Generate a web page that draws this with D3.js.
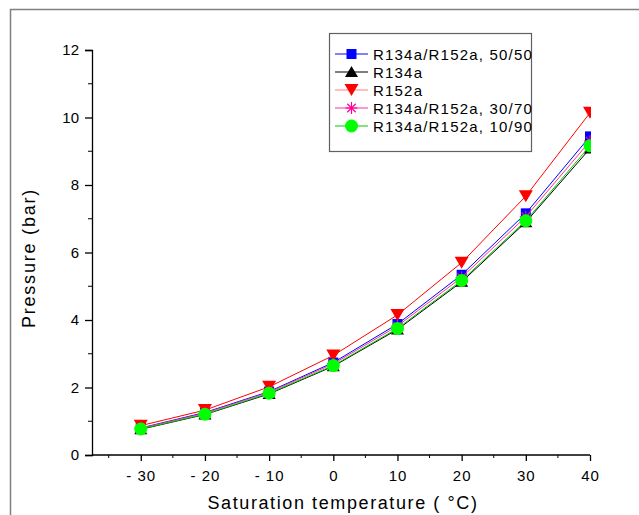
<!DOCTYPE html>
<meta charset="utf-8">
<style>
body { margin: 0; background: #fff; }
text { font-family: "Liberation Sans", Arial, sans-serif; fill: #000; }
</style>
<svg width="639" height="515"></svg>
<script src="https://d3js.org/d3.v7.min.js"></script>
<script>
var svg = d3.select("svg");

// saturation temperatures (°C)
var temps = [-30, -20, -10, 0, 10, 20, 30, 40];

// pressures (bar)
var p5050 = [0.80, 1.26, 1.88, 2.74, 3.88, 5.34, 7.16, 9.44];
var pR134a = [0.76, 1.20, 1.81, 2.63, 3.72, 5.13, 6.90, 9.08];
var pR152a = [0.87, 1.33, 2.02, 2.95, 4.15, 5.70, 7.67, 10.14];
var p3070 = [0.79, 1.24, 1.86, 2.70, 3.82, 5.26, 7.06, 9.30];
var p1090 = [0.77, 1.21, 1.83, 2.65, 3.75, 5.17, 6.94, 9.16];

var names = ["R134a/R152a, 50/50", "R134a", "R152a", "R134a/R152a, 30/70", "R134a/R152a, 10/90"];
var xTicks = [-30, -20, -10, 0, 10, 20, 30, 40];
var yTicks = [0, 2, 4, 6, 8, 10, 12];

var series = [
  {name: names[0], values: p5050, color: "#0000ff", line: "#0000ff", marker: "square"},
  {name: names[1], values: pR134a, color: "#000000", line: "#000000", marker: "triangle"},
  {name: names[2], values: pR152a, color: "#ff0000", line: "#ff0000", legendLine: "#ff8080", marker: "triangleDown"},
  {name: names[3], values: p3070, color: "#ff0099", line: "#ff3399", marker: "star"},
  {name: names[4], values: p1090, color: "#00ff00", line: "#00cc00", marker: "circle"}
];

// outer frame
svg.append("rect")
  .attr("x", 10.5).attr("y", 9.5)
  .attr("width", 700).attr("height", 600)
  .attr("fill", "none").attr("stroke", "#808080").attr("stroke-width", 1.5);

var x = d3.scaleLinear().domain([-37.6, 40]).range([92, 590]);
var y = d3.scaleLinear().domain([0, 12]).range([455, 50]);

svg.append("defs").append("clipPath").attr("id", "clip")
  .append("rect").attr("x", 92).attr("y", 0).attr("width", 499).attr("height", 470);

// axes
var xAxis = d3.axisBottom(x).tickValues(xTicks).tickSize(6)
  .tickFormat(function(d) { return d < 0 ? "- " + (-d) : d; });
var gx = svg.append("g").attr("transform", "translate(0,455)").call(xAxis);
gx.select(".domain").attr("d", "M92,0H590");
gx.selectAll(".tick text").attr("font-size", 15).attr("dy", "1.1em")
  .style("letter-spacing", "1px").attr("font-family", "Liberation Sans, Arial, sans-serif");
gx.append("g").selectAll("line").data(d3.range(-35, 40, 10)).enter().append("line")
  .attr("x1", function(d) { return x(d); }).attr("x2", function(d) { return x(d); })
  .attr("y1", 0).attr("y2", 3).attr("stroke", "#000");

var yAxis = d3.axisLeft(y).tickValues(yTicks).tickSize(7).tickPadding(6);
var gy = svg.append("g").attr("transform", "translate(92,0)").call(yAxis);
gy.selectAll(".tick text").attr("font-size", 15).attr("font-family", "Liberation Sans, Arial, sans-serif");
gy.append("g").selectAll("line").data(d3.range(1, 12, 2)).enter().append("line")
  .attr("y1", function(d) { return y(d); }).attr("y2", function(d) { return y(d); })
  .attr("x1", 0).attr("x2", -4).attr("stroke", "#000");
svg.selectAll(".domain, .tick line").attr("stroke-width", 1.3);

svg.append("text").attr("x", 343).attr("y", 509).attr("text-anchor", "middle")
  .attr("font-size", 18).style("letter-spacing", "1.6px")
  .text("Saturation temperature ( °C)");
svg.append("text").attr("transform", "translate(35,258) rotate(-90)")
  .attr("text-anchor", "middle").attr("font-size", 18).style("letter-spacing", "1.8px")
  .text("Pressure (bar)");

function drawMarker(g, type, color, cx, cy) {
  if (type === "square") {
    g.append("rect").attr("x", cx - 5).attr("y", cy - 5).attr("width", 10).attr("height", 10).attr("fill", color);
  } else if (type === "triangle") {
    g.append("path").attr("d", "M" + cx + "," + (cy - 6) + "L" + (cx + 6.5) + "," + (cy + 5) + "L" + (cx - 6.5) + "," + (cy + 5) + "Z").attr("fill", color);
  } else if (type === "triangleDown") {
    g.append("path").attr("d", "M" + (cx - 7) + "," + (cy - 6) + "L" + (cx + 7) + "," + (cy - 6) + "L" + cx + "," + (cy + 6) + "Z").attr("fill", color);
  } else if (type === "star") {
    var r = 6;
    [0, 45, 90, 135].forEach(function(a) {
      var rad = a * Math.PI / 180;
      g.append("line").attr("x1", cx - r * Math.cos(rad)).attr("y1", cy - r * Math.sin(rad))
        .attr("x2", cx + r * Math.cos(rad)).attr("y2", cy + r * Math.sin(rad))
        .attr("stroke", color).attr("stroke-width", 1.2);
    });
  } else {
    g.append("circle").attr("cx", cx).attr("cy", cy).attr("r", 6.5).attr("fill", color);
  }
}

var line = d3.line().x(function(d, i) { return x(temps[i]); }).y(function(d) { return y(d); });

var plot = svg.append("g").attr("clip-path", "url(#clip)");
series.forEach(function(s) {
  var g = plot.append("g");
  g.append("path").datum(s.values).attr("d", line)
    .attr("fill", "none").attr("stroke", s.line).attr("stroke-width", 1);
  s.values.forEach(function(v, i) { drawMarker(g, s.marker, s.color, x(temps[i]), y(v)); });
});

// legend
var leg = svg.append("g");
leg.append("rect").attr("x", 329.5).attr("y", 33.5).attr("width", 202).attr("height", 118)
  .attr("fill", "#fff").attr("stroke", "#606060").attr("stroke-width", 1.2);
series.forEach(function(s, i) {
  var ly = 54 + i * 18;
  leg.append("line").attr("x1", 335).attr("x2", 368).attr("y1", ly).attr("y2", ly)
    .attr("stroke", s.legendLine || s.line).attr("stroke-width", 1.2);
  drawMarker(leg, s.marker, s.color, 351.5, ly);
  leg.append("text").attr("x", 373).attr("y", ly + 5.5).attr("font-size", 15)
    .style("letter-spacing", "1.2px").text(s.name);
});
</script>
